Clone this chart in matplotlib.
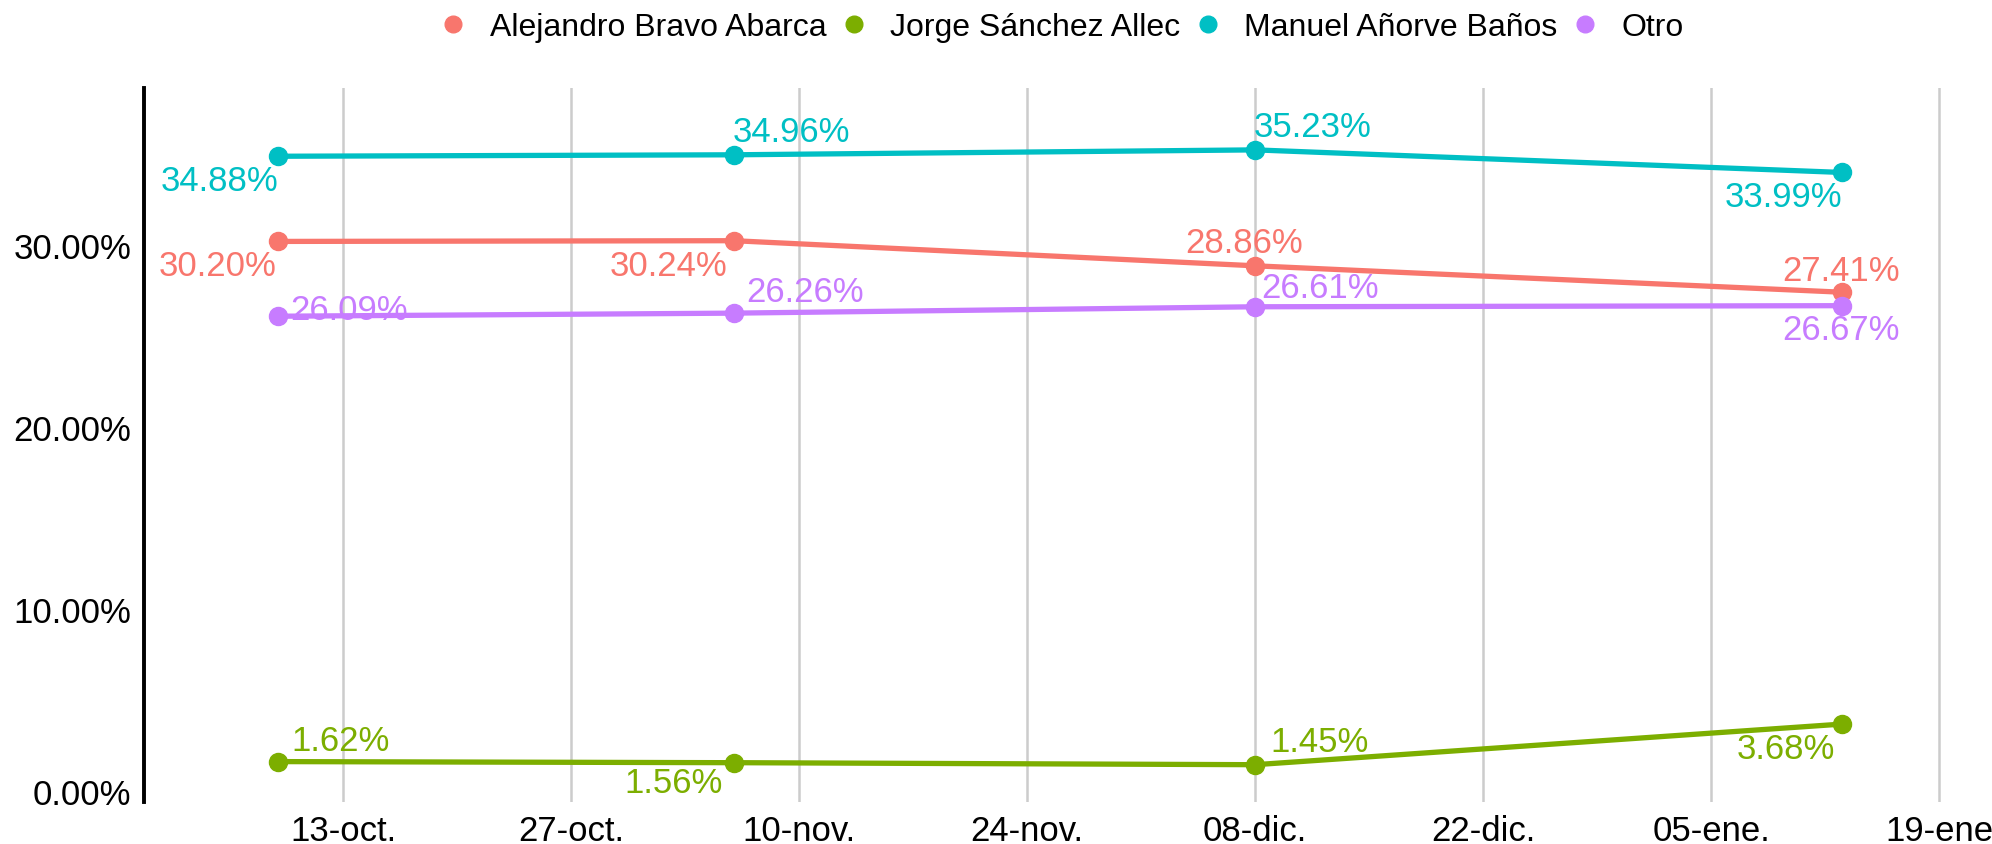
import matplotlib
matplotlib.use("Agg")
import matplotlib.pyplot as plt
import matplotlib.dates as mdates
from matplotlib.lines import Line2D
import numpy as np

plt.rcParams['font.family'] = ['Liberation Sans', 'DejaVu Sans']

# ---- data ----
dates = ["2023-10-09", "2023-11-06", "2023-12-08", "2024-01-13"]
series_names = ["Alejandro Bravo Abarca", "Jorge Sánchez Allec", "Manuel Añorve Baños", "Otro"]
alejandro = [30.20, 30.24, 28.86, 27.41]
jorge = [1.62, 1.56, 1.45, 3.68]
manuel = [34.88, 34.96, 35.23, 33.99]
otro = [26.09, 26.26, 26.61, 26.67]
tick_dates = ["2023-10-13", "2023-10-27", "2023-11-10", "2023-11-24",
              "2023-12-08", "2023-12-22", "2024-01-05", "2024-01-19"]
tick_labels = ["13-oct.", "27-oct.", "10-nov.", "24-nov.", "08-dic.", "22-dic.", "05-ene.", "19-ene"]
y_ticks = [0, 10, 20, 30]
y_tick_labels = ["0.00%", "10.00%", "20.00%", "30.00%"]

colors = ["#F8766D", "#7CAE00", "#00BFC4", "#C77CFF"]
values = [alejandro, jorge, manuel, otro]

# label offsets in pixels (style/position, not data)
offsets = [
    [(-60, -24), (-65, -25), (-11, 23), (-1, 22)],
    [(63, 21), (-60, -20), (64, 23), (-56, -24)],
    [(-58, -24), (57, 23), (57, 23), (-58, -24)],
    [(71, 7), (71, 22), (65, 19), (-1, -24)],
]

W, H = 1992, 845
fig = plt.figure(figsize=(W / 100, H / 100), dpi=100)
ax = fig.add_axes([144 / W, 1 - 803 / H, (1962 - 144) / W, (803 - 89) / H])

x = mdates.date2num(np.array(dates, dtype="datetime64[D]"))
for name, vals, col, offs in zip(series_names, values, colors, offsets):
    ax.plot(x, vals, color=col, lw=3.8, marker="o", ms=13, zorder=3, solid_capstyle="round")
    for xi, yi, (dx, dy) in zip(x, vals, offs):
        ax.annotate(f"{yi:.2f}%", (xi, yi), xytext=(dx, dy), textcoords="offset pixels",
                    ha="center", va="center", color=col, fontsize=25, zorder=4)

tx = mdates.date2num(np.array(tick_dates, dtype="datetime64[D]"))
ax.set_xticks(tx)
ax.set_xticklabels(tick_labels)
ax.set_yticks(y_ticks)
ax.set_yticklabels(y_tick_labels)

x0 = mdates.date2num(np.datetime64("2023-10-13")) - (343 - 144) / 16.29
x1 = mdates.date2num(np.datetime64("2023-10-13")) + (1962 - 343) / 16.29
ax.set_xlim(x0, x1)
ax.set_ylim(-0.60, 38.63)

ax.grid(axis="x", color="#cccccc", lw=1.8)
ax.grid(axis="y", visible=False)
ax.set_axisbelow(True)
for s in ["top", "right", "bottom"]:
    ax.spines[s].set_visible(False)
ax.spines["left"].set_linewidth(2.8)
ax.spines["left"].set_color("black")
ax.tick_params(axis="both", length=0, labelsize=25, colors="black")
ax.tick_params(axis="y", pad=9)
ax.tick_params(axis="x", pad=9)

handles = [Line2D([], [], marker="o", ls="none", color=c, ms=12) for c in colors]
fig.legend(handles, series_names, loc="center", bbox_to_anchor=(0.534, 1 - 28 / H), ncol=4,
           frameon=False, fontsize=23, handlelength=0.6, handletextpad=0.85, columnspacing=0.55)

fig.savefig("out.png", dpi=100, facecolor="white")
